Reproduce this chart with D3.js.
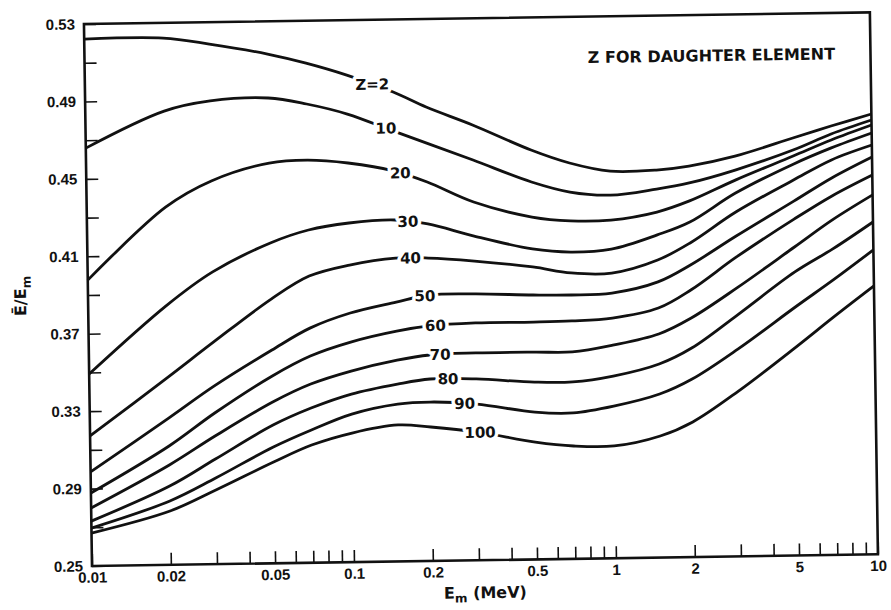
<!DOCTYPE html>
<html lang="en">
<head>
  <meta charset="UTF-8" />
  <title>Mean beta energy vs endpoint energy</title>
  <script src="https://unpkg.com/d3@7/dist/d3.min.js"></script>
  <style>
    body {
      margin: 0;
      background: #fff;
    }
    svg {
      display: block;
      font-family: "DejaVu Sans", Arial, sans-serif;
    }
    .axis text {
      font-size: 15px;
      font-weight: bold;
      fill: #111;
    }
    .axis line {
      stroke: #111;
      stroke-width: 1.6;
    }
    .axis path { display: none; }
    .curve {
      fill: none;
      stroke: #111;
      stroke-width: 2.8;
    }
    .zlabel {
      font-size: 15px;
      font-weight: bold;
      fill: #111;
      stroke: #fff;
      stroke-width: 7px;
      paint-order: stroke;
      stroke-linejoin: round;
    }
  </style>
</head>
<body>
  <svg id="chart" width="891" height="610"></svg>

  <script>
  // E_m grid (MeV) shared by every curve
  const energies = [0.01, 0.02, 0.03, 0.05, 0.07, 0.1, 0.15, 0.2, 0.3, 0.5, 0.7, 1, 1.5, 2, 3, 5, 7, 10];

  // mean energy / E_m, one array per daughter Z
  const z2   = [0.5222, 0.5221, 0.5187, 0.5131, 0.5081, 0.5016, 0.4925, 0.4845, 0.4749, 0.4615, 0.4545, 0.4500, 0.4502, 0.4520, 0.4568, 0.4657, 0.4716, 0.4775];
  const z10  = [0.4659, 0.4844, 0.4893, 0.4904, 0.4870, 0.4815, 0.4723, 0.4659, 0.4568, 0.4450, 0.4395, 0.4376, 0.4404, 0.4433, 0.4496, 0.4595, 0.4675, 0.4744];
  const z20  = [0.3977, 0.4348, 0.4480, 0.4568, 0.4580, 0.4562, 0.4517, 0.4458, 0.4351, 0.4269, 0.4246, 0.4247, 0.4285, 0.4340, 0.4444, 0.4564, 0.4644, 0.4718];
  const z30  = [0.3492, 0.3842, 0.4010, 0.4155, 0.4219, 0.4252, 0.4264, 0.4241, 0.4175, 0.4104, 0.4085, 0.4097, 0.4167, 0.4231, 0.4377, 0.4522, 0.4603, 0.4677];
  const z40  = [0.3172, 0.3470, 0.3648, 0.3865, 0.3981, 0.4035, 0.4067, 0.4065, 0.4046, 0.4011, 0.3977, 0.3973, 0.4037, 0.4123, 0.4279, 0.4440, 0.4541, 0.4615];
  const z50  = [0.2986, 0.3258, 0.3421, 0.3602, 0.3712, 0.3787, 0.3840, 0.3874, 0.3876, 0.3866, 0.3863, 0.3870, 0.3924, 0.4009, 0.4155, 0.4331, 0.4448, 0.4553];
  const z60  = [0.2877, 0.3114, 0.3281, 0.3468, 0.3568, 0.3637, 0.3690, 0.3714, 0.3726, 0.3726, 0.3729, 0.3741, 0.3789, 0.3880, 0.4047, 0.4238, 0.4355, 0.4460];
  const z70  = [0.2800, 0.3016, 0.3162, 0.3333, 0.3423, 0.3487, 0.3540, 0.3564, 0.3571, 0.3571, 0.3569, 0.3601, 0.3655, 0.3735, 0.3887, 0.4094, 0.4231, 0.4357];
  const z80  = [0.2732, 0.2907, 0.3043, 0.3214, 0.3299, 0.3368, 0.3416, 0.3440, 0.3437, 0.3416, 0.3414, 0.3441, 0.3500, 0.3580, 0.3747, 0.3965, 0.4081, 0.4217];
  const z90  = [0.2696, 0.2830, 0.2945, 0.3101, 0.3186, 0.3265, 0.3313, 0.3321, 0.3307, 0.3261, 0.3254, 0.3286, 0.3345, 0.3420, 0.3571, 0.3784, 0.3921, 0.4073];
  const z100 = [0.2670, 0.2778, 0.2883, 0.3023, 0.3108, 0.3167, 0.3205, 0.3192, 0.3163, 0.3106, 0.3083, 0.3080, 0.3128, 0.3198, 0.3354, 0.3577, 0.3730, 0.3887];

  const curves     = [z2, z10, z20, z30, z40, z50, z60, z70, z80, z90, z100];
  const curveNames = ["Z=2", "10", "20", "30", "40", "50", "60", "70", "80", "90", "100"];
  const labelAtE   = [0.125, 0.14, 0.158, 0.168, 0.171, 0.193, 0.211, 0.219, 0.234, 0.27, 0.308];

  const xTickLabels = [0.01, 0.02, 0.05, 0.1, 0.2, 0.5, 1, 2, 5, 10];
  const yTicks      = [0.25, 0.27, 0.29, 0.31, 0.33, 0.35, 0.37, 0.39, 0.41, 0.43, 0.45, 0.47, 0.49, 0.51, 0.53];
  const yTickLabels = [0.25, 0.29, 0.33, 0.37, 0.41, 0.45, 0.49, 0.53];

  const margin = { top: 24, left: 92 };
  const width  = 786;
  const height = 542;
  const tilt   = -0.85; // the scanned page sits a little crooked

  const svg = d3.select("#chart");
  const g = svg.append("g")
    .attr("transform", `translate(${margin.left},${margin.top + height}) rotate(${tilt}) translate(0,${-height})`);

  const x = d3.scaleLog().domain([0.01, 10]).range([0, width]);
  const y = d3.scaleLinear().domain([0.25, 0.53]).range([height, 0]);

  // ticks point inward
  const fmtX = d => (xTickLabels.some(v => Math.abs(v - d) < 1e-9) ? String(+d.toPrecision(3)) : "");
  g.append("g")
    .attr("class", "axis")
    .attr("transform", `translate(0,${height})`)
    .call(d3.axisBottom(x).tickValues(x.ticks()).tickSize(-12).tickPadding(6).tickFormat(fmtX));

  const fmtY = d => (yTickLabels.some(v => Math.abs(v - d) < 1e-9) ? d3.format(".2f")(d) : "");
  g.append("g")
    .attr("class", "axis")
    .call(d3.axisLeft(y).tickValues(yTicks).tickSize(-12).tickPadding(9).tickFormat(fmtY));

  g.append("rect")
    .attr("width", width)
    .attr("height", height)
    .attr("fill", "none")
    .attr("stroke", "#111")
    .attr("stroke-width", 2.6);

  const line = d3.line()
    .x((d, i) => x(energies[i]))
    .y(d => y(d))
    .curve(d3.curveCatmullRom.alpha(0.5));

  g.selectAll(".curve")
    .data(curves)
    .join("path")
      .attr("class", "curve")
      .attr("d", line);

  // label sits on its curve, white halo cuts the gap
  g.selectAll(".zlabel")
    .data(curves)
    .join("text")
      .attr("class", "zlabel")
      .attr("x", (d, i) => x(labelAtE[i]))
      .attr("y", (d, i) => y(d3.scaleLog().domain(energies).range(d)(labelAtE[i])))
      .attr("dy", "0.35em")
      .attr("text-anchor", "middle")
      .text((d, i) => curveNames[i]);

  g.append("text")
    .attr("x", x(2.47))
    .attr("y", y(0.506))
    .attr("text-anchor", "middle")
    .style("font-size", "16px")
    .style("font-weight", "bold")
    .style("fill", "#111")
    .text("Z FOR DAUGHTER ELEMENT");

  const xLab = g.append("text")
    .attr("x", width / 2)
    .attr("y", height + 38)
    .attr("text-anchor", "middle")
    .style("font-size", "16px")
    .style("font-weight", "bold")
    .style("fill", "#111");
  xLab.append("tspan").text("E");
  xLab.append("tspan").attr("dy", 4).style("font-size", "12px").text("m");
  xLab.append("tspan").attr("dy", -4).text(" (MeV)");

  const yLab = g.append("text")
    .attr("transform", `translate(-62,${height / 2}) rotate(-90)`)
    .attr("text-anchor", "middle")
    .style("font-size", "16px")
    .style("font-weight", "bold")
    .style("fill", "#111");
  yLab.append("tspan").text("Ē/E");
  yLab.append("tspan").attr("dy", 5).style("font-size", "12px").text("m");
  </script>
</body>
</html>
